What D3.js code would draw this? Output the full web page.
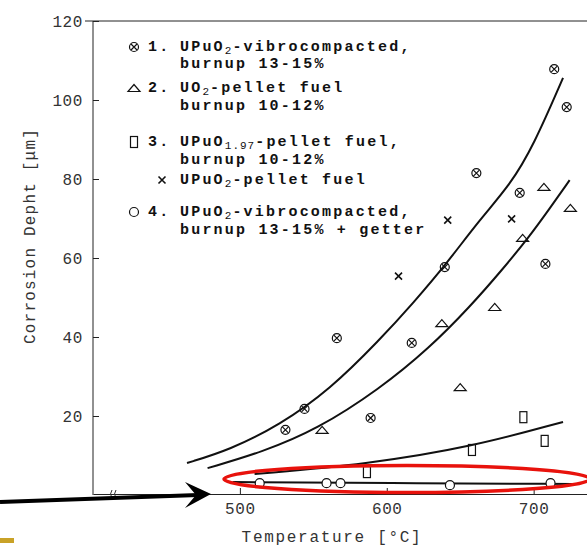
<!DOCTYPE html>
<html>
<head>
<meta charset="utf-8">
<script src="https://cdn.jsdelivr.net/npm/d3@7"></script>
<style>
  body { margin: 0; background: #fff; }
  svg { display: block; }
  .axis text { font-family: "Liberation Mono", monospace; font-size: 16px; fill: #333; letter-spacing: 0.6px; }
  .axis path, .axis line { stroke: #222; }
  .legend text { font-family: "Liberation Mono", monospace; font-weight: bold; font-size: 15px; fill: #111; letter-spacing: 2.2px; }
</style>
</head>
<body>
<svg id="chart" width="587" height="548"></svg>
<script>
// measured points [temperature °C, corrosion depth µm]
const vibro = [[531, 16.5], [544, 21.8], [566, 39.7], [589, 19.5], [617, 38.5], [639.5, 57.7],
  [661, 81.5], [690.5, 76.5], [708, 58.5], [714, 107.8], [722.5, 98.2]];
const uo2Pellet = [[556, 16.5], [637.5, 43.5], [650, 27.3], [673.5, 47.6], [692.5, 65.1], [707, 78], [725, 72.7]];
const upuo197 = [[586.5, 5.8], [658, 11.4], [693, 19.7], [707.5, 13.7]];
const upuo2Pellet = [[608, 55.4], [641.5, 69.6], [685, 69.9]];
const getter = [[513.5, 3], [559, 3], [568.5, 3], [643, 2.5], [711.5, 3]];

// fitted curves
const curve1 = [[464, 8.1], [493, 11.4], [527, 17.7], [561, 26.6], [595, 39.2], [618, 48.6],
  [641, 58.7], [663, 69.6], [684, 78.5], [700, 88.5], [720, 105.6]];
const curve2 = [[478, 6.8], [515.5, 10.9], [552.5, 16.6], [595, 26.8], [629, 37.2], [656.5, 47.6],
  [679, 57.2], [697, 65.4], [711, 72.6], [724.5, 79.7]];
const curve3 = [[510, 5.3], [586.5, 7.8], [658, 12.2], [720, 18.5]];
const curve4 = [[495, 3.3], [600, 3.0], [726.5, 2.8]];

const xTicks = [500, 600, 700];
const yTicks = [20, 40, 60, 80, 100, 120];

const legendRows = [
  { mark: 'otimes', num: '1.', parts: [['UPuO'], ['2', 'sub'], ['-vibrocompacted,']] },
  { parts: [['burnup 13-15%']] },
  { mark: 'tri', num: '2.', parts: [['UO'], ['2', 'sub'], ['-pellet fuel']] },
  { parts: [['burnup 10-12%']] },
  { mark: 'rect', num: '3.', parts: [['UPuO'], ['1.97', 'sub'], ['-pellet fuel,']] },
  { parts: [['burnup 10-12%']] },
  { mark: 'cross', num: '', parts: [['UPuO'], ['2', 'sub'], ['-pellet fuel']] },
  { mark: 'circle', num: '4.', parts: [['UPuO'], ['2', 'sub'], ['-vibrocompacted,']] },
  { parts: [['burnup 13-15% + getter']] }
];
const legendY = [47, 64, 88, 106, 142, 160, 180, 212, 230];

const svg = d3.select('#chart');

const x = d3.scaleLinear().domain([400, 737]).range([93, 588]);
const y = d3.scaleLinear().domain([0, 120]).range([495, 21]);

// marker drawing
function drawMark(g, type) {
  g.attr('fill', 'none').attr('stroke', '#111').attr('stroke-width', 1.2);
  if (type === 'otimes') {
    g.append('circle').attr('r', 4.5);
    g.append('path').attr('d', 'M-3,-3L3,3M-3,3L3,-3');
  } else if (type === 'tri') {
    g.append('path').attr('d', 'M-6,3.5L0,-3.5L6,3.5Z');
  } else if (type === 'rect') {
    g.append('rect').attr('x', -3.5).attr('y', -5.5).attr('width', 7).attr('height', 11);
  } else if (type === 'cross') {
    g.append('path').attr('d', 'M-3.5,-3.5L3.5,3.5M-3.5,3.5L3.5,-3.5').attr('stroke-width', 1.6);
  } else {
    g.append('circle').attr('r', 4.5).attr('fill', '#fff');
  }
}

// frame top line
svg.append('line')
  .attr('x1', 85).attr('x2', 587)
  .attr('y1', y(120)).attr('y2', y(120))
  .attr('stroke', '#222');

svg.append('g')
  .attr('class', 'axis')
  .attr('transform', `translate(${x(400)},0)`)
  .call(d3.axisLeft(y).tickValues(yTicks).tickSizeInner(-6).tickSizeOuter(0).tickPadding(10))
  .call(g => g.select('.domain').attr('d', `M0,${y(120)}V${y(0)}`));

svg.append('g')
  .attr('class', 'axis')
  .attr('transform', `translate(0,${y(0) - 1})`)
  .call(d3.axisBottom(x).tickValues(xTicks).tickSizeInner(-6).tickSizeOuter(0).tickPadding(9));

// axis break mark
svg.append('path')
  .attr('d', 'M112,490q-3,4,0,8M116,490q-3,4,0,8')
  .attr('fill', 'none').attr('stroke', '#333');

svg.append('text')
  .attr('transform', 'translate(31,236) rotate(-90)')
  .attr('text-anchor', 'middle')
  .attr('dominant-baseline', 'central')
  .style('font-family', '"Liberation Mono", monospace')
  .style('font-size', '16px')
  .style('letter-spacing', '1.2px')
  .style('fill', '#333')
  .text('Corrosion Depht [\u03bcm]');

svg.append('text')
  .attr('x', 332).attr('y', 538)
  .attr('text-anchor', 'middle')
  .attr('dominant-baseline', 'central')
  .style('font-family', '"Liberation Mono", monospace')
  .style('font-size', '16px')
  .style('letter-spacing', '1.7px')
  .style('fill', '#333')
  .text('Temperature [\u00b0C]');

// curves
const line = d3.line()
  .x(d => x(d[0]))
  .y(d => y(d[1]))
  .curve(d3.curveBasis);

svg.append('g')
  .selectAll('path')
  .data([curve1, curve2, curve3, curve4])
  .enter()
  .append('path')
  .attr('d', line)
  .attr('fill', 'none')
  .attr('stroke', '#111')
  .attr('stroke-width', 2);

// points
const series = [
  { data: vibro, mark: 'otimes' },
  { data: uo2Pellet, mark: 'tri' },
  { data: upuo197, mark: 'rect' },
  { data: upuo2Pellet, mark: 'cross' },
  { data: getter, mark: 'circle' }
];

series.forEach(s => {
  svg.append('g')
    .selectAll('g')
    .data(s.data)
    .enter()
    .append('g')
    .attr('transform', d => `translate(${x(d[0])},${y(d[1])})`)
    .each(function () { drawMark(d3.select(this), s.mark); });
});

// legend
const legend = svg.append('g').attr('class', 'legend');
legendRows.forEach((row, i) => {
  const ly = legendY[i];
  if (row.mark) {
    const mx = row.mark === 'cross' ? 162 : 134;
    drawMark(legend.append('g').attr('transform', `translate(${mx},${ly})`), row.mark);
  }
  if (row.num) {
    legend.append('text').attr('x', 148).attr('y', ly)
      .attr('dominant-baseline', 'central').text(row.num);
  }
  const t = legend.append('text').attr('x', 180).attr('y', ly)
    .attr('dominant-baseline', 'central');
  row.parts.forEach(p => {
    const ts = t.append('tspan').text(p[0]);
    if (p[1] === 'sub') ts.attr('dy', 4).style('font-size', '11px').style('font-weight', 'normal').style('letter-spacing', '1px');
    else if (ts.node().previousSibling) ts.attr('dy', -4);
  });
});

// annotation: red ellipse and arrow
svg.append('ellipse')
  .attr('cx', 407).attr('cy', 479)
  .attr('rx', 183).attr('ry', 13.5)
  .attr('fill', 'none')
  .attr('stroke', '#e8120c')
  .attr('stroke-width', 3.5);

svg.append('path')
  .attr('d', 'M0,502L198,495')
  .attr('stroke', '#000')
  .attr('stroke-width', 4);
svg.append('path')
  .attr('d', 'M211,494L185,482L196,495L185,508Z')
  .attr('fill', '#000');

svg.append('rect')
  .attr('x', 0).attr('y', 538)
  .attr('width', 14).attr('height', 5)
  .attr('fill', '#c9a227');
</script>
</body>
</html>
